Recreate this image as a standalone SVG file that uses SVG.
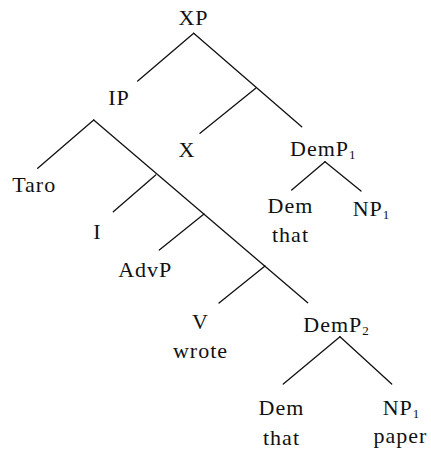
<svg xmlns="http://www.w3.org/2000/svg" width="431" height="453" viewBox="0 0 431 453">
<style>
text{font-family:"Liberation Serif","Times New Roman",serif;font-size:22px;letter-spacing:1px;fill:#111;}
.m{text-anchor:middle;}
.sub{font-size:13px;}
line{stroke:#111;stroke-width:1.3;stroke-linecap:round;}
</style>
<rect width="431" height="453" fill="#fff"/>
<g id="connectors">
<line x1="193.7" y1="33.3" x2="137.7" y2="81"/>
<line x1="193.7" y1="33.3" x2="301.7" y2="126.7"/>
<line x1="255.7" y1="88.3" x2="200" y2="133.3"/>
<line x1="93.7" y1="120" x2="37.7" y2="168.3"/>
<line x1="93.7" y1="120" x2="307.7" y2="302.7"/>
<line x1="155.7" y1="175" x2="113.3" y2="211.7"/>
<line x1="204" y1="214" x2="159.3" y2="250"/>
<line x1="265" y1="266" x2="219" y2="303"/>
<line x1="325" y1="161.7" x2="291.7" y2="190"/>
<line x1="325" y1="161.7" x2="361" y2="191"/>
<line x1="340" y1="336.7" x2="283.3" y2="384"/>
<line x1="340" y1="336.7" x2="391.7" y2="384"/>
</g>
<g id="XP"><text class="m" x="193.5" y="25">XP</text></g>
<g id="IP"><text class="m" x="119" y="105">IP</text></g>
<g id="X"><text class="m" x="187" y="157">X</text></g>
<g id="DemP1"><text x="290" y="156">DemP<tspan class="sub" dy="3">1</tspan></text></g>
<g id="Taro"><text class="m" x="34.2" y="192">Taro</text></g>
<g id="Dem1"><text class="m" x="290.5" y="213">Dem</text><text class="m" x="290.5" y="242">that</text></g>
<g id="NP1a"><text x="352.7" y="216">NP<tspan class="sub" dy="3">1</tspan></text></g>
<g id="I"><text class="m" x="97.5" y="239">I</text></g>
<g id="AdvP"><text class="m" x="145.2" y="277">AdvP</text></g>
<g id="V"><text class="m" x="200.5" y="329">V</text><text class="m" x="200.5" y="358">wrote</text></g>
<g id="DemP2"><text x="303.3" y="332">DemP<tspan class="sub" dy="3">2</tspan></text></g>
<g id="Dem2"><text class="m" x="281.5" y="415">Dem</text><text class="m" x="281.5" y="445">that</text></g>
<g id="NP1b"><text x="382.7" y="415">NP<tspan class="sub" dy="3">1</tspan></text><text class="m" x="400.5" y="443">paper</text></g>
</svg>
